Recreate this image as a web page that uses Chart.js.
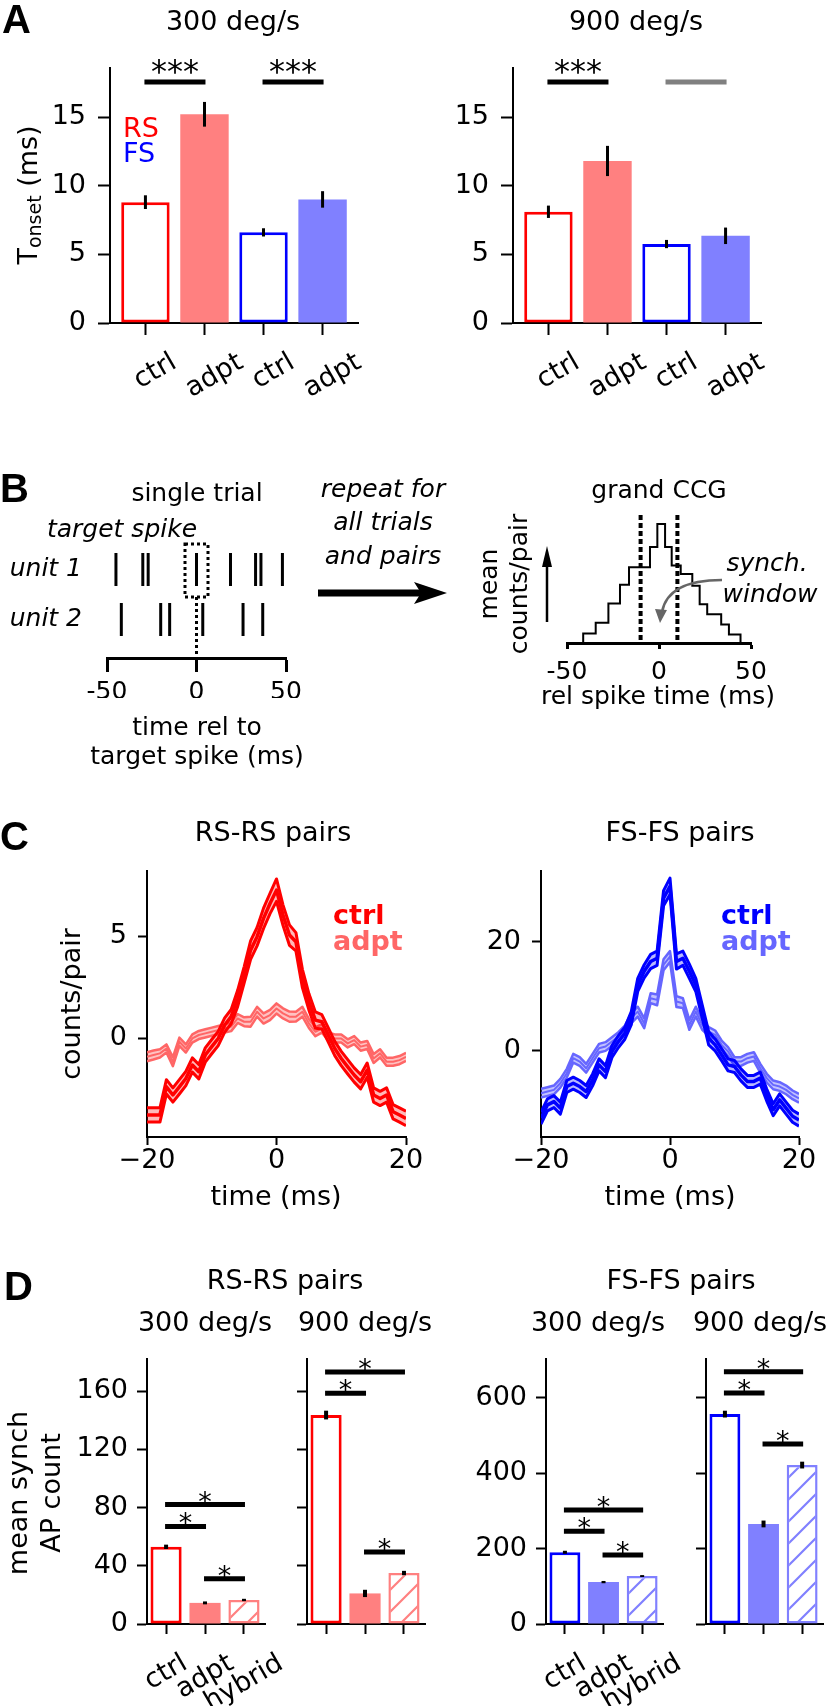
<!DOCTYPE html>
<html>
<head>
<meta charset="utf-8">
<title>Onset latency and synchrony</title>
<script src="https://cdn.jsdelivr.net/npm/chart.js@4.4.1/dist/chart.umd.min.js"></script>
<style>
  html, body { margin: 0; padding: 0; background: #fff; }
  #fig { position: relative; width: 826px; height: 1706px; overflow: hidden; }
  #fig canvas { position: absolute; left: 0; top: 0; }
</style>
</head>
<body>
<div id="fig"></div>
<script>
// ---- A: response onset, mean and s.e.m. (ms) ----
const onsetLabels = ['ctrl', 'adpt', 'ctrl', 'adpt'];
const onset300 = [8.8, 15.2, 6.6, 9.0];
const onset300Err = [0.5, 0.9, 0.3, 0.6];
const onset900 = [8.1, 11.8, 5.75, 6.35];
const onset900Err = [0.45, 1.1, 0.3, 0.6];
const onsetTicks = [0, 5, 10, 15];
// [from bar, to bar, height, stars]  ('' = not significant)
const onsetSig300 = [[0, 1, 17.55, '***'], [2, 3, 17.55, '***']];
const onsetSig900 = [[0, 1, 17.55, '***'], [2, 3, 17.55, '']];

// ---- B: schematic ----
const unitNames = ['unit 1', 'unit 2'];
const unit1Spikes = [-45, -30, -27, 0, 19, 33, 36, 48];
const unit2Spikes = [-42, -20, -15, 3.5, 26, 37];
const targetSpike = 0;
const relTicks = [-50, 0, 50];
const ccgEdges = [-41.2, -34.4, -27.5, -21.2, -16.3, -4.9, -0.9, 3.3, 6.9, 11.8, 18.1, 22.1, 26.2, 33.8, 38.0, 44.3];
const ccgCounts = [28, 60, 117, 173, 225, 285, 353, 285, 230, 205, 170, 115, 85, 55, 25];
const synchWindow = [-10, 10];

// ---- C: CCGs (counts/pair) ----
const lagMs = [-20, -19, -18, -17, -16, -15, -14, -13, -12, -11, -10, -9, -8, -7, -6, -5, -4, -3, -2, -1, 0,
               1, 2, 3, 4, 5, 6, 7, 8, 9, 10, 11, 12, 13, 14, 15, 16, 17, 18, 19, 20];
const rsCtrl = [-3.77, -3.77, -3.77, -2.39, -2.79, -2.39, -1.98, -1.32, -1.65, -0.83, -0.42, -0.02, 0.64, 1.05, 1.94, 3.09, 4.31, 4.97, 5.87, 6.6, 7.25,
                6.03, 5.05, 4.72, 2.92, 1.78, 0.88, 0.8, 0.15, -0.51, -1.0, -1.41, -1.81, -2.14, -1.57, -2.79, -2.96, -2.79, -3.61, -3.77, -3.94];
const rsCtrlSem = [0.35, 0.35, 0.35, 0.35, 0.35, 0.35, 0.35, 0.35, 0.35, 0.35, 0.35, 0.35, 0.35, 0.35, 0.4, 0.4, 0.45, 0.45, 0.5, 0.5, 0.55,
                   0.5, 0.5, 0.45, 0.45, 0.4, 0.4, 0.35, 0.35, 0.35, 0.35, 0.35, 0.35, 0.35, 0.35, 0.35, 0.35, 0.35, 0.35, 0.35, 0.35];
const rsAdpt = [-0.92, -0.83, -0.75, -0.51, -1.16, -0.18, -0.51, -0.02, 0.15, 0.23, 0.31, 0.39, 0.47, 0.56, 0.96, 0.8, 0.8, 1.29, 0.96, 1.13, 1.45,
                1.21, 1.05, 1.05, 1.29, 0.72, 0.31, 0.47, 0.07, -0.02, -0.02, -0.26, -0.1, -0.42, -0.34, -1.0, -0.75, -1.16, -1.16, -1.08, -0.92];
const rsAdptSem = [0.22, 0.22, 0.2, 0.2, 0.22, 0.2, 0.2, 0.2, 0.2, 0.2, 0.2, 0.2, 0.2, 0.22, 0.22, 0.22, 0.24, 0.24, 0.25, 0.25, 0.25,
                   0.25, 0.25, 0.24, 0.24, 0.22, 0.22, 0.2, 0.2, 0.2, 0.2, 0.2, 0.2, 0.2, 0.2, 0.22, 0.2, 0.2, 0.2, 0.2, 0.2];
const fsCtrl = [-12.35, -9.9, -9.3, -10.5, -6.54, -5.93, -6.54, -7.46, -5.32, -2.57, -3.8, -0.12, 1.71, 3.24, 6.0, 12.1, 14.6, 16.4, 17.0, 28.0, 30.2,
                16.4, 17.0, 14.6, 12.1, 7.2, 2.3, 1.1, -0.7, -2.57, -2.87, -4.4, -5.6, -5.6, -5.0, -8.1, -10.8, -9.0, -10.5, -12.0, -12.7];
const fsCtrlSem = [1.1, 1.1, 1.1, 1.1, 1.1, 1.1, 1.1, 1.1, 1.1, 1.1, 1.1, 1.1, 1.1, 1.1, 1.2, 1.2, 1.2, 1.3, 1.3, 1.4, 1.5,
                   1.4, 1.3, 1.3, 1.2, 1.2, 1.2, 1.1, 1.1, 1.1, 1.1, 1.1, 1.1, 1.1, 1.1, 1.1, 1.1, 1.1, 1.1, 1.1, 1.1];
const fsAdpt = [-7.77, -7.46, -7.16, -5.93, -4.1, -1.35, -1.96, -3.18, -1.35, 0.49, 0.8, 1.71, 2.63, 3.85, 6.0, 7.2, 5.08, 9.66, 9.36, 15.8, 17.3,
                9.05, 8.75, 4.77, 7.2, 4.77, 3.55, 2.94, 1.1, -0.12, -1.96, -1.96, -1.35, -1.04, -3.18, -5.0, -6.24, -6.54, -7.16, -8.07, -8.7];
const fsAdptSem = [0.8, 0.8, 0.8, 0.8, 0.8, 0.8, 0.8, 0.8, 0.8, 0.8, 0.8, 0.8, 0.8, 0.8, 0.9, 0.9, 0.9, 0.9, 1.0, 1.0, 1.0,
                   1.0, 0.9, 0.9, 0.9, 0.9, 0.8, 0.8, 0.8, 0.8, 0.8, 0.8, 0.8, 0.8, 0.8, 0.8, 0.8, 0.8, 0.8, 0.8, 0.8];
const lagTicks = [-20, 0, 20];
const rsCcgTicks = [0, 5];
const fsCcgTicks = [0, 20];

// ---- D: mean synchronous AP count ----
const synchLabels = ['ctrl', 'adpt', 'hybrid'];
const rs300 = [53, 14.5, 16.5], rs300Err = [1.5, 1, 0.8];
const rs900 = [143.5, 21, 35], rs900Err = [3, 2.5, 1.5];
const fs300 = [190, 111, 127], fs300Err = [4, 3, 2.5];
const fs900 = [556, 265, 421], fs900Err = [9, 9, 9];
const rsSynchTicks = [0, 40, 80, 120, 160];
const fsSynchTicks = [0, 200, 400, 600];
const rsSig300 = [[0, 1, 67, '*'], [0, 2, 82, '*'], [1, 2, 31, '*']];
const rsSig900 = [[0, 1, 158.5, '*'], [0, 2, 173, '*'], [1, 2, 49.5, '*']];
const fsSig300 = [[0, 1, 246, '*'], [0, 2, 302, '*'], [1, 2, 183, '*']];
const fsSig900 = [[0, 1, 612, '*'], [0, 2, 668, '*'], [1, 2, 477, '*']];

// ---------------------------------------------------------------
const FIG_W = 826, FIG_H = 1706;
const RS = '#ff0000', RS_L = '#ff8080', RS_A = '#ff6666';
const FS = '#0000ff', FS_L = '#8080ff', FS_A = '#6666ff';
const SANS = "'DejaVu Sans'", LETTER = "'Liberation Sans'";

Chart.defaults.font.family = 'DejaVu Sans';
Chart.defaults.color = '#000';

const fig = document.getElementById('fig');
function makeCanvas() {
  const c = document.createElement('canvas');
  c.width = FIG_W; c.height = FIG_H;
  c.style.width = FIG_W + 'px'; c.style.height = FIG_H + 'px';
  fig.appendChild(c);
  return c;
}

// every chart gets a full-figure canvas; padding puts its plot area in place
function frame(area, yW, xH) {
  return {
    responsive: false, maintainAspectRatio: false, animation: false, devicePixelRatio: 1, events: [],
    layout: {padding: {left: area.l - yW, top: area.t, right: FIG_W - area.r, bottom: FIG_H - area.b - xH}},
    plugins: {legend: {display: false}, tooltip: {enabled: false}},
  };
}

function axis(o) {
  const tl = o.tl || 0, lw = o.lw || 2;
  return {
    type: 'linear', position: o.pos, min: o.min, max: o.max, offset: false, bounds: 'data',
    border: {display: o.spine !== false, color: '#000', width: lw},
    grid: {display: tl > 0, drawOnChartArea: false, drawTicks: true, tickLength: tl, tickWidth: lw,
           tickColor: '#000', color: '#000', offset: false},
    ticks: {display: o.labels !== false, padding: o.pad || 0, color: '#000', autoSkip: false,
            maxRotation: 0, minRotation: 0,
            font: {family: 'DejaVu Sans', size: o.fs || 27, style: o.italic ? 'italic' : 'normal'},
            callback: o.cb || (v => String(v))},
    afterBuildTicks: s => { s.ticks = o.ticks.map(v => ({value: v})); },
    afterFit: s => { if (o.pos === 'left') s.width = o.size; else s.height = o.size; },
  };
}

const minus = v => (v < 0 ? '\u2212' + Math.abs(v) : String(v));

function text(ctx, s, x, y, o = {}) {
  ctx.save();
  ctx.font = `${o.italic ? 'italic ' : ''}${o.bold ? 'bold ' : ''}${o.size || 27}px ${o.family || SANS}`;
  ctx.fillStyle = o.color || '#000';
  ctx.textAlign = o.align || 'center';
  ctx.textBaseline = 'alphabetic';
  ctx.translate(x, y);
  if (o.rot) ctx.rotate(o.rot * Math.PI / 180);
  ctx.fillText(s, 0, 0);
  ctx.restore();
}

function rotLabels(chart, labels, top, dx) {
  const ctx = chart.ctx, xs = chart.scales.x, size = 27, a = Math.PI / 6;
  ctx.save();
  ctx.font = `${size}px ${SANS}`;
  ctx.fillStyle = '#000'; ctx.textAlign = 'center'; ctx.textBaseline = 'middle';
  labels.forEach((s, i) => {
    const w = ctx.measureText(s).width;
    const bh = w * Math.sin(a) + size * Math.cos(a);
    ctx.save();
    ctx.translate(xs.getPixelForValue(i) + dx, top + bh / 2);
    ctx.rotate(-a);
    ctx.fillText(s, 0, 0);
    ctx.restore();
  });
  ctx.restore();
}

function errBars(chart, vals, errs, lw) {
  const ctx = chart.ctx, xs = chart.scales.x, ys = chart.scales.y;
  ctx.save();
  ctx.strokeStyle = '#000'; ctx.lineWidth = lw; ctx.lineCap = 'butt';
  vals.forEach((v, i) => {
    const x = xs.getPixelForValue(i);
    ctx.beginPath();
    ctx.moveTo(x, ys.getPixelForValue(v - errs[i]));
    ctx.lineTo(x, ys.getPixelForValue(v + errs[i]));
    ctx.stroke();
  });
  ctx.restore();
}

function sigBars(chart, list, size, off) {
  const ctx = chart.ctx, xs = chart.scales.x, ys = chart.scales.y;
  list.forEach(([a, b, h, stars]) => {
    const x1 = xs.getPixelForValue(a), x2 = xs.getPixelForValue(b), y = ys.getPixelForValue(h);
    ctx.save();
    ctx.strokeStyle = stars ? '#000' : '#808080'; ctx.lineWidth = 5;
    ctx.beginPath(); ctx.moveTo(x1 - 1, y); ctx.lineTo(x2 + 1, y); ctx.stroke();
    ctx.restore();
    if (stars) text(ctx, stars, (x1 + x2) / 2, y + off, {size});
  });
}

function hatch(ctx, color) {
  const p = 22, c = document.createElement('canvas');
  c.width = p; c.height = p;
  const g = c.getContext('2d');
  g.fillStyle = '#fff'; g.fillRect(0, 0, p, p);
  g.strokeStyle = color; g.lineWidth = 2.2;
  g.beginPath();
  g.moveTo(-p / 2, p / 2); g.lineTo(p / 2, -p / 2);
  g.moveTo(0, p); g.lineTo(p, 0);
  g.moveTo(p / 2, p * 1.5); g.lineTo(p * 1.5, p / 2);
  g.stroke();
  return ctx.createPattern(c, 'repeat');
}

function barChart(o) {
  const cv = makeCanvas();
  const yW = 70, xH = 40;
  const fills = o.fills(cv.getContext('2d'));
  return new Chart(cv, {
    type: 'bar',
    data: {datasets: [{
      data: o.vals.map((v, i) => ({x: i, y: v})),
      backgroundColor: fills, borderColor: o.edges, borderWidth: o.widths,
      borderSkipped: false, barPercentage: o.barPct, categoryPercentage: 1,
    }]},
    options: Object.assign(frame(o.area, yW, xH), {
      scales: {
        x: axis({pos: 'bottom', min: o.xMin, max: o.xMax, ticks: o.vals.map((v, i) => i), tl: o.tl, labels: false, size: xH}),
        y: axis({pos: 'left', min: 0, max: o.yMax, ticks: o.yTicks, tl: o.tl, pad: o.pad, labels: o.yLabels, size: yW}),
      },
    }),
    plugins: [{id: 'extras', afterDraw: c => {
      errBars(c, o.vals, o.errs, o.errW);
      sigBars(c, o.sig, o.starSize, o.starOff);
      if (o.labels) rotLabels(c, o.labels, o.labelTop, o.labelDx);
      if (o.extra) o.extra(c.ctx, c);
    }}],
  });
}

// ================= A =================
const A_AREA_T = 67.6;
barChart({
  area: {l: 110, r: 358, t: A_AREA_T, b: 323}, vals: onset300, errs: onset300Err, errW: 3,
  fills: () => ['#fff', RS_L, '#fff', FS_L], edges: [RS, RS_L, FS, FS_L], widths: [3, 0, 3, 0],
  barPct: 0.82, xMin: -0.6, xMax: 3.6, yMax: 18.6, yTicks: onsetTicks, tl: 12, pad: 12, yLabels: true,
  sig: onsetSig300, starSize: 32, starOff: 0, labels: onsetLabels, labelTop: 349, labelDx: 10,
  extra: ctx => {
    text(ctx, 'A', 2, 33, {bold: true, size: 40, family: LETTER, align: 'left'});
    text(ctx, '300 deg/s', 233, 30);
    text(ctx, 'RS', 123, 137, {align: 'left', color: RS});
    text(ctx, 'FS', 123, 162, {align: 'left', color: FS});
    // T_onset (ms)
    ctx.save();
    ctx.translate(37, 195); ctx.rotate(-Math.PI / 2);
    ctx.fillStyle = '#000'; ctx.textAlign = 'left'; ctx.textBaseline = 'alphabetic';
    const f1 = `27px ${SANS}`, f2 = `19px ${SANS}`;
    ctx.font = f1; const wT = ctx.measureText('T').width, wR = ctx.measureText(' (ms)').width;
    ctx.font = f2; const wS = ctx.measureText('onset').width;
    let x = -(wT + wS + wR) / 2;
    ctx.font = f1; ctx.fillText('T', x, 0); x += wT;
    ctx.font = f2; ctx.fillText('onset', x, 4); x += wS;
    ctx.font = f1; ctx.fillText(' (ms)', x, 0);
    ctx.restore();
  },
});
barChart({
  area: {l: 513, r: 761, t: A_AREA_T, b: 323}, vals: onset900, errs: onset900Err, errW: 3,
  fills: () => ['#fff', RS_L, '#fff', FS_L], edges: [RS, RS_L, FS, FS_L], widths: [3, 0, 3, 0],
  barPct: 0.82, xMin: -0.6, xMax: 3.6, yMax: 18.6, yTicks: onsetTicks, tl: 12, pad: 12, yLabels: true,
  sig: onsetSig900, starSize: 32, starOff: 0, labels: onsetLabels, labelTop: 349, labelDx: 10,
  extra: ctx => { text(ctx, '900 deg/s', 636, 30); },
});

// ================= B =================
const spikeStyle = {showLine: false, pointStyle: 'line', pointRadius: 16.5, pointRotation: 90,
                    pointBorderWidth: 3, pointBorderColor: '#000', pointBackgroundColor: '#000', clip: false};
new Chart(makeCanvas(), {
  type: 'scatter',
  data: {datasets: [
    Object.assign({data: unit1Spikes.map(t => ({x: t, y: unitNames.length}))}, spikeStyle),
    Object.assign({data: unit2Spikes.map(t => ({x: t, y: unitNames.length - 1}))}, spikeStyle),
  ]},
  options: Object.assign(frame({l: 107, r: 286, t: 531, b: 658}, 107, 40), {
    scales: {
      x: axis({pos: 'bottom', min: -50, max: 50, ticks: relTicks, tl: 14, lw: 3, pad: 5.5, fs: 25, size: 40}),
      y: axis({pos: 'left', min: 0.23, max: 2.77, ticks: [1, 2], tl: 0, spine: false, pad: 25, fs: 25, italic: true,
               size: 107, cb: v => unitNames[unitNames.length - v]}),
    },
  }),
  plugins: [{id: 'extras', afterDraw: c => {
    const ctx = c.ctx, xs = c.scales.x, ys = c.scales.y;
    text(ctx, 'B', 0, 502, {bold: true, size: 40, family: LETTER, align: 'left'});
    text(ctx, 'single trial', 197, 501, {size: 25});
    text(ctx, 'target spike', 122, 537, {size: 25, italic: true});
    text(ctx, 'time rel to', 197, 735, {size: 25});
    text(ctx, 'target spike (ms)', 197, 764, {size: 25});
    const px = xs.getPixelForValue(targetSpike), py = ys.getPixelForValue(unitNames.length);
    ctx.save();
    ctx.strokeStyle = '#000'; ctx.lineWidth = 3; ctx.setLineDash([3, 3]);
    ctx.strokeRect(px - 11.5, py - 25.5, 23, 53);
    ctx.beginPath(); ctx.moveTo(px, py + 27.5); ctx.lineTo(px, c.chartArea.bottom); ctx.stroke();
    ctx.restore();
  }}],
});

const ccgPts = [{x: ccgEdges[0], y: 0}]
  .concat(ccgCounts.map((h, i) => ({x: ccgEdges[i], y: h})))
  .concat([{x: ccgEdges[ccgEdges.length - 1], y: 0}]);
new Chart(makeCanvas(), {
  type: 'line',
  data: {datasets: [{data: ccgPts, stepped: 'before', borderColor: '#000', borderWidth: 2, pointRadius: 0, fill: false}]},
  options: Object.assign(frame({l: 567, r: 751, t: 515, b: 643}, 0, 40), {
    scales: {
      x: axis({pos: 'bottom', min: -50, max: 50, ticks: relTicks, tl: 6, lw: 3, pad: 8.5, fs: 25, size: 40}),
      y: {type: 'linear', display: false, min: 0, max: 380},
    },
  }),
  plugins: [{id: 'extras', afterDraw: c => {
    const ctx = c.ctx, xs = c.scales.x, ca = c.chartArea;
    // synchrony window
    ctx.save();
    ctx.strokeStyle = '#000'; ctx.lineWidth = 4; ctx.setLineDash([5, 3]);
    synchWindow.forEach(t => {
      const x = xs.getPixelForValue(t);
      ctx.beginPath(); ctx.moveTo(x, ca.top); ctx.lineTo(x, ca.bottom); ctx.stroke();
    });
    ctx.restore();
    text(ctx, 'grand CCG', 659, 498, {size: 25});
    text(ctx, 'mean', 497, 584, {size: 25, rot: -90});
    text(ctx, 'counts/pair', 527, 584, {size: 25, rot: -90});
    text(ctx, 'rel spike time (ms)', 658, 704, {size: 25});
    text(ctx, 'synch.', 767, 571, {size: 25, italic: true});
    text(ctx, 'window', 770, 602, {size: 25, italic: true});
    text(ctx, 'repeat for', 383, 497, {size: 25, italic: true});
    text(ctx, 'all trials', 383, 530, {size: 25, italic: true});
    text(ctx, 'and pairs', 383, 564, {size: 25, italic: true});
    ctx.save();
    // vertical arrow
    ctx.fillStyle = '#000'; ctx.strokeStyle = '#000'; ctx.lineWidth = 2.5;
    ctx.beginPath(); ctx.moveTo(547, 622); ctx.lineTo(547, 562); ctx.stroke();
    ctx.beginPath(); ctx.moveTo(547, 546); ctx.lineTo(552, 567); ctx.lineTo(542, 567); ctx.closePath(); ctx.fill();
    // big arrow
    ctx.lineWidth = 7;
    ctx.beginPath(); ctx.moveTo(318, 593); ctx.lineTo(422, 593); ctx.stroke();
    ctx.beginPath(); ctx.moveTo(447, 593); ctx.lineTo(414, 582); ctx.lineTo(421, 593); ctx.lineTo(414, 604); ctx.closePath(); ctx.fill();
    // curved grey arrow
    ctx.strokeStyle = '#666'; ctx.fillStyle = '#666'; ctx.lineWidth = 2.5;
    ctx.beginPath(); ctx.moveTo(722, 580); ctx.quadraticCurveTo(668, 580, 662, 612); ctx.stroke();
    ctx.beginPath(); ctx.moveTo(660, 623); ctx.lineTo(655, 609); ctx.lineTo(667, 610); ctx.closePath(); ctx.fill();
    ctx.restore();
  }}],
});

// ================= C =================
function band(mean, sem, line, fill, lw, edgeW) {
  const pts = f => mean.map((m, i) => ({x: lagMs[i], y: f(m, sem[i])}));
  return [
    {data: pts((m) => m), borderColor: line, borderWidth: lw, fill: false},
    {data: pts((m, s) => m + s), borderColor: line, borderWidth: edgeW, fill: false},
    {data: pts((m, s) => m - s), borderColor: line, borderWidth: edgeW, fill: '-1', backgroundColor: fill},
  ];
}
function ccgChart(o) {
  const yW = 70, xH = 40;
  return new Chart(makeCanvas(), {
    type: 'line',
    data: {datasets: band(o.ctrl, o.ctrlSem, o.c1, o.f1, 3.5, 3).concat(band(o.adpt, o.adptSem, o.c2, o.f2, 2, 2.5))},
    options: Object.assign(frame(o.area, yW, xH), {
      elements: {point: {radius: 0}, line: {tension: 0, borderJoinStyle: 'round'}},
      scales: {
        x: axis({pos: 'bottom', min: -20, max: 20, ticks: lagTicks, tl: 8, pad: 0, size: xH, cb: minus}),
        y: axis({pos: 'left', min: o.yMin, max: o.yMax, ticks: o.yTicks, tl: 9, pad: 11, size: yW, cb: minus}),
      },
    }),
    plugins: [{id: 'extras', afterDraw: c => o.extra(c.ctx, c)}],
  });
}
ccgChart({
  area: {l: 147, r: 406, t: 871, b: 1137}, yMin: -4.85, yMax: 8.19, yTicks: rsCcgTicks,
  ctrl: rsCtrl, ctrlSem: rsCtrlSem, adpt: rsAdpt, adptSem: rsAdptSem,
  c1: RS, f1: 'rgba(255,0,0,0.28)', c2: RS_A, f2: 'rgba(255,102,102,0.4)',
  extra: ctx => {
    text(ctx, 'C', 0, 850, {bold: true, size: 40, family: LETTER, align: 'left'});
    text(ctx, 'RS-RS pairs', 273, 841);
    text(ctx, 'ctrl', 333, 924, {bold: true, align: 'left', color: RS});
    text(ctx, 'adpt', 333, 950, {bold: true, align: 'left', color: RS_A});
    text(ctx, 'counts/pair', 80, 1004, {rot: -90});
    text(ctx, 'time (ms)', 276, 1205);
  },
});
ccgChart({
  area: {l: 541, r: 799, t: 871, b: 1137}, yMin: -15.8, yMax: 33, yTicks: fsCcgTicks,
  ctrl: fsCtrl, ctrlSem: fsCtrlSem, adpt: fsAdpt, adptSem: fsAdptSem,
  c1: FS, f1: 'rgba(0,0,255,0.28)', c2: FS_A, f2: 'rgba(102,102,255,0.4)',
  extra: ctx => {
    text(ctx, 'FS-FS pairs', 680, 841);
    text(ctx, 'ctrl', 721, 924, {bold: true, align: 'left', color: FS});
    text(ctx, 'adpt', 721, 950, {bold: true, align: 'left', color: FS_A});
    text(ctx, 'time (ms)', 670, 1205);
  },
});

// ================= D =================
const D_T = 1359, D_B = 1624;
const dCommon = {errW: 4, barPct: 0.8, xMin: -0.49, xMax: 2.54, tl: 10, pad: 9, starSize: 27, starOff: 6, labelTop: 1650, labelDx: 0};
barChart(Object.assign({}, dCommon, {
  area: {l: 147, r: 265, t: D_T, b: D_B}, vals: rs300, errs: rs300Err,
  fills: ctx => ['#fff', RS_L, hatch(ctx, RS_L)], edges: [RS, RS_L, RS_L], widths: [3, 0, 2.5],
  yMax: 182, yTicks: rsSynchTicks, yLabels: true, sig: rsSig300, labels: synchLabels,
  extra: ctx => {
    text(ctx, 'D', 4, 1300, {bold: true, size: 40, family: LETTER, align: 'left'});
    text(ctx, 'RS-RS pairs', 285, 1289);
    text(ctx, '300 deg/s', 205, 1331);
    text(ctx, 'mean synch', 27, 1493, {rot: -90});
    text(ctx, 'AP count', 60, 1493, {rot: -90});
  },
}));
barChart(Object.assign({}, dCommon, {
  area: {l: 307, r: 425, t: D_T, b: D_B}, vals: rs900, errs: rs900Err,
  fills: ctx => ['#fff', RS_L, hatch(ctx, RS_L)], edges: [RS, RS_L, RS_L], widths: [3, 0, 2.5],
  yMax: 182, yTicks: rsSynchTicks, yLabels: false, sig: rsSig900,
  extra: ctx => { text(ctx, '900 deg/s', 365, 1331); },
}));
barChart(Object.assign({}, dCommon, {
  area: {l: 546, r: 663, t: D_T, b: D_B}, vals: fs300, errs: fs300Err,
  fills: ctx => ['#fff', FS_L, hatch(ctx, FS_L)], edges: [FS, FS_L, FS_L], widths: [3, 0, 2.5],
  yMax: 702, yTicks: fsSynchTicks, yLabels: true, sig: fsSig300, labels: synchLabels,
  extra: ctx => {
    text(ctx, 'FS-FS pairs', 681, 1289);
    text(ctx, '300 deg/s', 598, 1331);
  },
}));
barChart(Object.assign({}, dCommon, {
  area: {l: 706, r: 823, t: D_T, b: D_B}, vals: fs900, errs: fs900Err,
  fills: ctx => ['#fff', FS_L, hatch(ctx, FS_L)], edges: [FS, FS_L, FS_L], widths: [3, 0, 2.5],
  yMax: 702, yTicks: fsSynchTicks, yLabels: false, sig: fsSig900,
  extra: ctx => { text(ctx, '900 deg/s', 760, 1331); },
}));
</script>
</body>
</html>
